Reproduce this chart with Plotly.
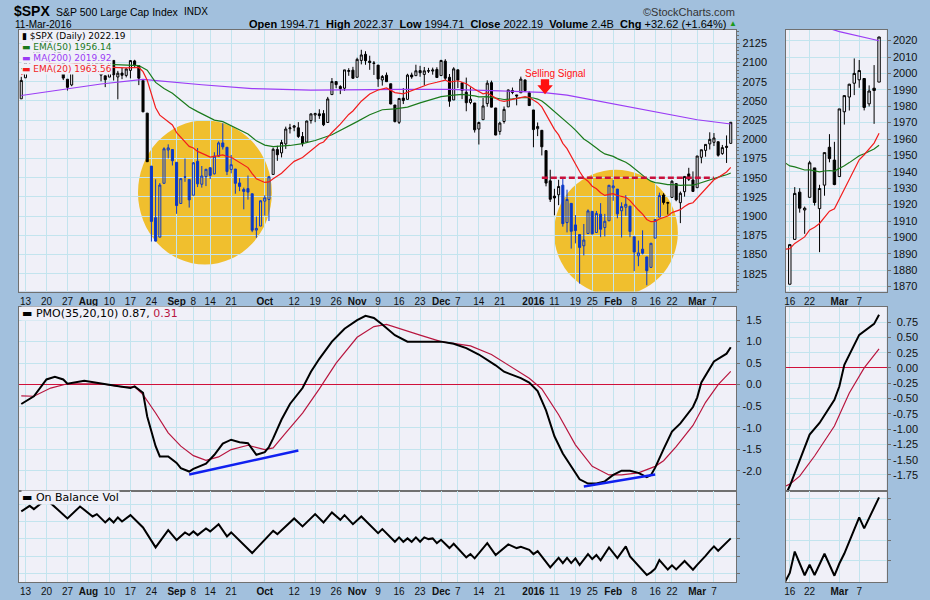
import pandas as pd
import plotly.graph_objects as go

W, H = 930, 600
PAGE = "#A2C0DD"
PANEL = "#F0F0F8"
GRID = "#C3E4EE"
BORDER = "#707070"
FONT = "Arial, Liberation Sans, sans-serif"
LEG_FONT = "DejaVu Sans, Verdana, sans-serif"

# trading days shown (Jul 10 2015 .. Mar 11 2016)
holidays = ["2015-09-07", "2015-11-26", "2015-12-25", "2016-01-01", "2016-01-18", "2016-02-15"]
days = [d.strftime("%Y-%m-%d") for d in pd.bdate_range("2015-07-10", "2016-03-11")]
days = [d for d in days if d not in holidays]

opens = [2052.74,
         2080.03, 2099.72, 2109.01, 2110.55, 2126.80,
         2126.85, 2127.55, 2118.21, 2114.16, 2102.24,
         2078.19, 2070.75, 2094.70, 2106.78, 2111.60,
         2104.49, 2097.68, 2095.27, 2100.75, 2082.61,
         2080.98, 2102.66, 2081.10, 2086.19, 2083.15,
         2089.70, 2101.99, 2095.69, 2076.61, 2034.08,
         1965.15, 1898.08, 1872.75, 1942.77, 1986.06,
         1986.73, 1970.09, 1916.52, 1950.79, 1947.76,
         1927.30, 1971.45, 1941.59, 1951.45,
         1963.06, 1955.10, 1978.02, 1995.33, 1989.66,
         1960.84, 1961.39, 1943.24, 1934.81, 1935.93,
         1929.18, 1881.90, 1887.14, 1919.65, 1921.77,
         1954.33, 1986.63, 1982.34, 1994.01, 2013.73,
         2015.65, 2015.00, 2003.66, 1996.47, 2024.37,
         2031.73, 2033.13, 2033.47, 2021.88, 2058.19,
         2075.08, 2068.75, 2066.48, 2088.35, 2090.00,
         2080.76, 2102.63, 2110.60, 2101.68, 2098.60,
         2096.56, 2077.19, 2083.41, 2072.29, 2044.64,
         2022.08, 2053.67, 2051.99, 2083.70, 2082.82,
         2089.41, 2084.42, 2089.30, 2088.82,
         2090.95, 2082.93, 2101.71, 2080.71, 2051.24,
         2090.42, 2073.39, 2061.17, 2047.93, 2047.27,
         2013.37, 2025.55, 2046.50, 2073.76, 2040.81,
         2010.27, 2023.15, 2042.20, 2063.52,
         2057.77, 2060.54, 2077.34, 2060.59,
         2038.20, 2013.78, 2011.71, 1985.32, 1945.97,
         1926.12, 1927.83, 1940.34, 1891.68, 1916.68,
         1888.66, 1876.18, 1861.46, 1877.40,
         1906.28, 1878.79, 1902.52, 1885.22, 1894.00,
         1936.94, 1935.26, 1907.07, 1911.67, 1913.07,
         1873.25, 1848.46, 1857.10, 1847.00, 1833.40,
         1871.44, 1898.80, 1927.57, 1916.74,
         1924.44, 1942.38, 1917.56, 1931.87, 1954.95,
         1947.13, 1937.09, 1976.60, 1985.60, 1994.01,
         1996.11, 1996.88, 1981.44, 1990.97, 1994.71]
highs = [2081.31,
         2100.67, 2111.98, 2114.14, 2124.42, 2128.91,
         2132.82, 2128.49, 2118.51, 2116.87, 2106.01,
         2078.19, 2095.60, 2110.60, 2110.48, 2114.24,
         2105.70, 2102.51, 2112.66, 2103.32, 2082.61,
         2105.35, 2102.66, 2089.06, 2092.93, 2092.45,
         2102.87, 2103.47, 2096.17, 2076.61, 2034.08,
         1965.15, 1948.04, 1943.09, 1989.60, 1993.48,
         1986.73, 1970.09, 1948.91, 1975.01, 1947.76,
         1970.42, 1988.63, 1965.29, 1961.05,
         1963.06, 1983.19, 1997.26, 2020.86, 1989.66,
         1979.64, 1961.39, 1949.52, 1937.17, 1952.89,
         1929.18, 1899.48, 1920.53, 1927.21, 1951.36,
         1989.17, 1991.62, 1999.31, 2016.50, 2020.13,
         2018.66, 2022.34, 2009.56, 2024.15, 2033.54,
         2034.45, 2039.12, 2037.97, 2055.20, 2079.74,
         2075.14, 2070.37, 2090.35, 2092.52, 2094.32,
         2106.20, 2116.48, 2114.59, 2108.78, 2101.91,
         2096.56, 2083.67, 2086.94, 2072.29, 2044.64,
         2053.22, 2066.69, 2085.31, 2086.74, 2097.06,
         2095.61, 2094.12, 2093.00, 2093.29,
         2093.81, 2103.37, 2104.27, 2085.00, 2093.84,
         2090.42, 2073.85, 2080.33, 2067.65, 2047.27,
         2022.92, 2053.87, 2076.72, 2076.37, 2040.81,
         2022.90, 2042.74, 2064.73, 2067.36,
         2057.77, 2081.56, 2077.34, 2062.54,
         2038.20, 2021.94, 2011.71, 1985.32, 1960.40,
         1935.65, 1947.38, 1950.33, 1934.47, 1916.68,
         1901.44, 1876.18, 1889.85, 1908.85,
         1906.28, 1906.73, 1916.98, 1902.96, 1940.24,
         1947.20, 1935.26, 1918.01, 1927.35, 1913.07,
         1873.25, 1868.25, 1881.60, 1847.00, 1864.78,
         1895.77, 1930.68, 1930.00, 1918.78,
         1946.70, 1942.38, 1932.08, 1951.83, 1962.96,
         1958.27, 1978.35, 1986.51, 1993.69, 2009.13,
         2008.16, 1996.88, 1992.69, 2005.08, 2022.37]
lows = [2052.74,
        2080.03, 2098.18, 2102.49, 2110.55, 2119.88,
        2123.66, 2115.40, 2110.00, 2098.63, 2077.09,
        2063.52, 2069.09, 2094.08, 2094.97, 2102.07,
        2087.31, 2088.60, 2095.27, 2075.53, 2067.91,
        2080.98, 2076.49, 2052.09, 2078.26, 2080.61,
        2079.30, 2094.14, 2070.53, 2035.73, 1970.89,
        1867.01, 1867.08, 1872.75, 1942.77, 1975.19,
        1965.98, 1903.07, 1916.52, 1944.72, 1911.21,
        1927.30, 1937.88, 1937.19, 1939.19,
        1948.27, 1954.30, 1977.93, 1986.73, 1953.45,
        1955.80, 1929.22, 1932.57, 1908.92, 1921.50,
        1879.21, 1871.91, 1887.14, 1900.70, 1893.70,
        1954.33, 1971.99, 1976.44, 1987.53, 2007.61,
        2010.55, 2001.78, 1990.73, 1996.47, 2020.46,
        2022.31, 2026.61, 2017.22, 2021.88, 2058.19,
        2066.53, 2058.84, 2063.11, 2082.63, 2079.34,
        2080.76, 2097.51, 2096.98, 2090.41, 2083.74,
        2068.24, 2069.91, 2074.85, 2045.66, 2022.02,
        2019.94, 2045.90, 2051.99, 2078.76, 2082.82,
        2081.39, 2070.29, 2086.30, 2084.13,
        2080.41, 2082.93, 2077.11, 2042.35, 2051.24,
        2066.78, 2052.32, 2036.53, 2045.67, 2008.80,
        1993.26, 2025.55, 2042.43, 2041.66, 2005.33,
        2005.93, 2020.49, 2042.20, 2058.73,
        2044.20, 2060.54, 2061.97, 2043.62,
        1989.68, 2004.17, 1979.05, 1938.83, 1918.46,
        1901.10, 1914.35, 1886.41, 1878.93, 1857.83,
        1864.60, 1812.29, 1848.98, 1877.40,
        1875.97, 1878.79, 1872.70, 1873.65, 1894.00,
        1920.03, 1897.29, 1872.23, 1900.52, 1872.65,
        1828.46, 1834.94, 1850.32, 1810.10, 1833.40,
        1871.44, 1898.80, 1915.09, 1902.17,
        1924.44, 1919.44, 1891.00, 1925.41, 1945.78,
        1931.81, 1937.09, 1968.80, 1977.37, 1986.77,
        1991.25, 1977.43, 1979.84, 1969.25, 1994.71]
closes = [2076.62,
          2099.60, 2108.95, 2107.40, 2124.29, 2126.64,
          2128.28, 2119.21, 2114.15, 2102.15, 2079.65,
          2067.64, 2093.25, 2108.57, 2108.63, 2103.84,
          2098.04, 2093.32, 2099.84, 2083.56, 2077.57,
          2104.18, 2084.07, 2086.05, 2083.39, 2091.54,
          2102.44, 2096.92, 2079.61, 2035.73, 1970.89,
          1893.21, 1867.61, 1940.51, 1987.66, 1988.87,
          1972.18, 1913.85, 1948.86, 1951.13, 1921.22,
          1969.41, 1942.04, 1952.29, 1961.05,
          1953.03, 1978.09, 1995.31, 1990.20, 1958.03,
          1966.97, 1942.74, 1938.76, 1932.24, 1931.34,
          1881.77, 1884.09, 1920.03, 1923.82, 1951.36,
          1987.05, 1979.92, 1995.83, 2013.43, 2014.89,
          2017.46, 2003.69, 1994.24, 2023.86, 2033.11,
          2033.66, 2030.77, 2018.94, 2052.51, 2075.15,
          2071.18, 2065.89, 2090.35, 2089.41, 2079.36,
          2104.05, 2109.79, 2102.31, 2099.93, 2099.20,
          2078.58, 2081.72, 2075.00, 2045.97, 2023.04,
          2053.19, 2050.44, 2083.58, 2081.24, 2089.17,
          2086.59, 2089.14, 2088.87, 2090.11,
          2080.41, 2102.63, 2079.51, 2049.62, 2091.69,
          2077.07, 2063.59, 2047.62, 2052.23, 2012.37,
          2021.94, 2043.41, 2073.07, 2041.89, 2005.55,
          2021.15, 2038.97, 2064.29, 2060.99,
          2056.50, 2078.36, 2063.36, 2043.94,
          2012.66, 2016.71, 1990.26, 1943.09, 1922.03,
          1923.67, 1938.68, 1890.28, 1921.84, 1880.33,
          1881.33, 1859.33, 1868.99, 1906.90,
          1877.08, 1903.63, 1882.95, 1893.36, 1940.24,
          1939.38, 1903.03, 1912.53, 1915.45, 1880.05,
          1853.44, 1852.21, 1851.86, 1829.08, 1864.78,
          1895.58, 1926.82, 1917.83, 1917.78,
          1945.50, 1921.27, 1929.80, 1951.70, 1948.05,
          1932.23, 1978.35, 1986.45, 1993.40, 1999.99,
          2001.76, 1979.26, 1989.26, 1989.57, 2022.19]

# candles drawn blue where the highlight circles sit
blue_spans = [("2015-08-24", "2015-10-02"), ("2016-01-13", "2016-02-17")]

tick_days = ["2015-07-13", "2015-07-20", "2015-07-27", "2015-08-03", "2015-08-10", "2015-08-17",
             "2015-08-24", "2015-09-01", "2015-09-08", "2015-09-14", "2015-09-21", "2015-10-01",
             "2015-10-12", "2015-10-19", "2015-10-26", "2015-11-02", "2015-11-09", "2015-11-16",
             "2015-11-23", "2015-12-01", "2015-12-07", "2015-12-14", "2015-12-21", "2016-01-04",
             "2016-01-11", "2016-01-19", "2016-01-25", "2016-02-01", "2016-02-08", "2016-02-16",
             "2016-02-22", "2016-03-01", "2016-03-07"]
tick_text = ["13", "20", "27", "<b>Aug</b>", "10", "17", "24", "<b>Sep</b>", "8", "14", "21",
             "<b>Oct</b>", "12", "19", "26", "<b>Nov</b>", "9", "16", "23", "<b>Dec</b>", "7",
             "14", "21", "<b>2016</b>", "11", "19", "25", "<b>Feb</b>", "8", "16", "22",
             "<b>Mar</b>", "7"]
inset_tick_days = ["2016-02-16", "2016-02-22", "2016-03-01", "2016-03-07"]
inset_tick_text = ["16", "22", "<b>Mar</b>", "7"]

ema50 = [("2015-07-10", 2092), ("2015-07-20", 2096), ("2015-07-30", 2097), ("2015-08-10", 2097.5),
         ("2015-08-19", 2096), ("2015-08-21", 2090), ("2015-08-25", 2074), ("2015-08-27", 2066),
         ("2015-08-31", 2060), ("2015-09-02", 2051), ("2015-09-04", 2042), ("2015-09-09", 2036),
         ("2015-09-11", 2030), ("2015-09-15", 2025), ("2015-09-17", 2023), ("2015-09-21", 2018),
         ("2015-09-23", 2012.5), ("2015-09-25", 2007), ("2015-09-29", 1998), ("2015-10-01", 1992.5),
         ("2015-10-05", 1990.5), ("2015-10-09", 1992), ("2015-10-14", 1994.5), ("2015-10-19", 1998.5),
         ("2015-10-23", 2006), ("2015-10-28", 2014), ("2015-11-02", 2023), ("2015-11-05", 2032),
         ("2015-11-10", 2038.5), ("2015-11-13", 2039.5), ("2015-11-18", 2042), ("2015-11-23", 2047.5),
         ("2015-11-27", 2052), ("2015-12-01", 2055.5), ("2015-12-04", 2057.5), ("2015-12-08", 2058.5),
         ("2015-12-11", 2056.5), ("2015-12-14", 2055.2), ("2015-12-16", 2055.6), ("2015-12-18", 2053.2),
         ("2015-12-22", 2051.8), ("2015-12-24", 2052.6), ("2015-12-29", 2054.1), ("2015-12-31", 2054.2),
         ("2016-01-04", 2053.8), ("2016-01-05", 2052.4), ("2016-01-06", 2049.9), ("2016-01-07", 2045.7),
         ("2016-01-08", 2040.9), ("2016-01-11", 2036.3), ("2016-01-12", 2032.5), ("2016-01-13", 2026.9),
         ("2016-01-14", 2022.8), ("2016-01-15", 2017.2), ("2016-01-19", 2011.9), ("2016-01-20", 2005.9),
         ("2016-01-21", 2000.5), ("2016-01-22", 1996.9), ("2016-01-25", 1992.2), ("2016-01-26", 1988.7),
         ("2016-01-27", 1984.6), ("2016-01-28", 1981.0), ("2016-01-29", 1979.4), ("2016-02-01", 1977.8),
         ("2016-02-02", 1974.9), ("2016-02-03", 1972.5), ("2016-02-04", 1970.2), ("2016-02-05", 1966.7),
         ("2016-02-08", 1962.2), ("2016-02-09", 1957.9), ("2016-02-10", 1953.8), ("2016-02-11", 1948.9),
         ("2016-02-12", 1945.6), ("2016-02-16", 1943.6), ("2016-02-17", 1943.0), ("2016-02-18", 1942.0),
         ("2016-02-19", 1941.1), ("2016-02-22", 1941.2), ("2016-02-23", 1940.4), ("2016-02-24", 1940.0),
         ("2016-02-25", 1940.5), ("2016-02-26", 1940.8), ("2016-02-29", 1940.4), ("2016-03-01", 1941.9),
         ("2016-03-02", 1943.7), ("2016-03-03", 1945.6), ("2016-03-04", 1947.7), ("2016-03-07", 1949.8),
         ("2016-03-08", 1951.0), ("2016-03-09", 1952.5), ("2016-03-10", 1953.9), ("2016-03-11", 1956.14)]

ma200 = [("2015-07-10", 2057), ("2015-07-27", 2065.5), ("2015-08-06", 2072), ("2015-08-20", 2078),
         ("2015-09-10", 2071), ("2015-09-28", 2066), ("2015-10-16", 2064), ("2015-11-17", 2065),
         ("2015-12-03", 2065), ("2015-12-21", 2063), ("2016-01-06", 2061), ("2016-01-14", 2057.5),
         ("2016-01-27", 2049), ("2016-02-09", 2040), ("2016-02-19", 2032), ("2016-03-01", 2025.5),
         ("2016-03-11", 2019.92)]

ema20 = [("2015-07-10", 2084), ("2015-07-17", 2097), ("2015-07-24", 2101), ("2015-07-31", 2097),
         ("2015-08-07", 2094), ("2015-08-14", 2093), ("2015-08-19", 2093.5), ("2015-08-20", 2088.0),
         ("2015-08-21", 2076.9), ("2015-08-24", 2059.4), ("2015-08-25", 2041.1), ("2015-08-26", 2031.5),
         ("2015-08-28", 2023.6), ("2015-08-31", 2018.7), ("2015-09-01", 2008.7), ("2015-09-02", 2003.0),
         ("2015-09-04", 1990.8), ("2015-09-08", 1988.8), ("2015-09-09", 1984.3), ("2015-09-11", 1979.4),
         ("2015-09-14", 1976.9), ("2015-09-17", 1979.8), ("2015-09-18", 1977.7), ("2015-09-21", 1976.7),
         ("2015-09-23", 1970.2), ("2015-09-25", 1963.2), ("2015-09-28", 1955.5), ("2015-09-29", 1948.7),
         ("2015-10-01", 1943.9), ("2015-10-02", 1944.6), ("2015-10-05", 1948.6), ("2015-10-07", 1955.8),
         ("2015-10-09", 1966.4), ("2015-10-12", 1971.3), ("2015-10-14", 1976.3), ("2015-10-16", 1985.8),
         ("2015-10-20", 1994.2), ("2015-10-21", 1996.6), ("2015-10-23", 2008.9), ("2015-10-27", 2019.7),
         ("2015-10-29", 2032.4), ("2015-10-30", 2036.9), ("2015-11-03", 2049.6), ("2015-11-05", 2058.9),
         ("2015-11-09", 2064.2), ("2015-11-11", 2066.8), ("2015-11-13", 2060.8), ("2015-11-17", 2059.2),
         ("2015-11-20", 2065.9), ("2015-11-25", 2071.7), ("2015-11-30", 2074.2), ("2015-12-02", 2077.1),
         ("2015-12-03", 2074.5), ("2015-12-07", 2076.2), ("2015-12-09", 2072.4), ("2015-12-11", 2065.0),
         ("2015-12-15", 2059.2), ("2015-12-16", 2060.5), ("2015-12-18", 2053.6), ("2015-12-21", 2050.5),
         ("2015-12-22", 2049.4), ("2015-12-24", 2051.8), ("2015-12-29", 2054.7), ("2015-12-30", 2055.5),
         ("2015-12-31", 2054.4), ("2016-01-04", 2051.0), ("2016-01-05", 2047.7), ("2016-01-06", 2042.2),
         ("2016-01-07", 2032.8), ("2016-01-08", 2022.3), ("2016-01-11", 2012.9), ("2016-01-12", 2005.8),
         ("2016-01-13", 1994.8), ("2016-01-14", 1987.9), ("2016-01-15", 1977.6), ("2016-01-19", 1968.5),
         ("2016-01-20", 1958.1), ("2016-01-21", 1949.6), ("2016-01-22", 1945.5), ("2016-01-25", 1939.0),
         ("2016-01-26", 1935.6), ("2016-01-27", 1930.6), ("2016-01-28", 1927.0), ("2016-01-29", 1928.3),
         ("2016-02-01", 1929.4), ("2016-02-02", 1926.9), ("2016-02-03", 1925.5), ("2016-02-04", 1924.5),
         ("2016-02-05", 1920.3), ("2016-02-08", 1913.9), ("2016-02-09", 1908.0), ("2016-02-10", 1902.7),
         ("2016-02-11", 1895.7), ("2016-02-12", 1892.8), ("2016-02-16", 1893.1), ("2016-02-17", 1896.3),
         ("2016-02-18", 1898.3), ("2016-02-19", 1900.3), ("2016-02-22", 1904.6), ("2016-02-23", 1906.2),
         ("2016-02-24", 1908.5), ("2016-02-25", 1912.6), ("2016-02-26", 1916.0), ("2016-02-29", 1917.5),
         ("2016-03-01", 1923.3), ("2016-03-02", 1929.3), ("2016-03-03", 1935.4), ("2016-03-04", 1941.6),
         ("2016-03-07", 1947.3), ("2016-03-08", 1950.4), ("2016-03-09", 1954.1), ("2016-03-10", 1957.5),
         ("2016-03-11", 1963.56)]

pmo = [("2015-07-10", -0.45), ("2015-07-15", -0.27), ("2015-07-20", 0.12), ("2015-07-22", 0.18),
       ("2015-07-24", 0.12), ("2015-07-27", 0.02), ("2015-07-31", 0.09), ("2015-08-05", 0.05),
       ("2015-08-11", -0.02), ("2015-08-17", -0.08), ("2015-08-18", -0.04), ("2015-08-20", -0.19),
       ("2015-08-21", -0.74), ("2015-08-25", -1.43), ("2015-08-26", -1.67), ("2015-08-28", -1.67),
       ("2015-09-01", -1.82), ("2015-09-02", -1.94), ("2015-09-04", -2.02), ("2015-09-08", -1.96),
       ("2015-09-11", -1.84), ("2015-09-15", -1.63), ("2015-09-17", -1.37), ("2015-09-21", -1.28),
       ("2015-09-23", -1.34), ("2015-09-25", -1.36), ("2015-09-29", -1.63), ("2015-10-01", -1.57),
       ("2015-10-02", -1.45), ("2015-10-05", -1.25), ("2015-10-07", -0.81), ("2015-10-09", -0.45),
       ("2015-10-14", -0.08), ("2015-10-16", 0.30), ("2015-10-20", 0.60), ("2015-10-23", 1.00),
       ("2015-10-28", 1.30), ("2015-11-02", 1.50), ("2015-11-04", 1.60), ("2015-11-06", 1.55),
       ("2015-11-10", 1.40), ("2015-11-13", 1.15), ("2015-11-18", 1.00), ("2015-11-24", 1.00),
       ("2015-12-01", 1.00), ("2015-12-04", 0.95), ("2015-12-09", 0.85), ("2015-12-14", 0.70),
       ("2015-12-18", 0.45), ("2015-12-22", 0.30), ("2015-12-29", 0.15), ("2015-12-31", 0.05),
       ("2016-01-05", -0.15), ("2016-01-07", -0.60), ("2016-01-11", -1.20), ("2016-01-13", -1.60),
       ("2016-01-15", -1.90), ("2016-01-20", -2.20), ("2016-01-22", -2.30), ("2016-01-26", -2.30),
       ("2016-01-28", -2.25), ("2016-02-01", -2.10), ("2016-02-03", -2.00), ("2016-02-05", -2.00),
       ("2016-02-09", -2.05), ("2016-02-11", -2.15), ("2016-02-12", -2.10), ("2016-02-16", -1.93),
       ("2016-02-18", -1.50), ("2016-02-22", -1.09), ("2016-02-24", -0.90), ("2016-02-29", -0.52),
       ("2016-03-01", -0.30), ("2016-03-02", 0.05), ("2016-03-07", 0.54), ("2016-03-10", 0.72),
       ("2016-03-11", 0.87)]

pmo_signal = [("2015-07-10", -0.26), ("2015-07-15", -0.27), ("2015-07-21", -0.08), ("2015-07-27", 0.02),
              ("2015-08-06", 0.02), ("2015-08-13", -0.05), ("2015-08-18", -0.05), ("2015-08-20", -0.23),
              ("2015-08-25", -0.66), ("2015-08-28", -1.12), ("2015-09-02", -1.43), ("2015-09-08", -1.65),
              ("2015-09-11", -1.76), ("2015-09-16", -1.68), ("2015-09-21", -1.51), ("2015-09-25", -1.41),
              ("2015-10-01", -1.51), ("2015-10-05", -1.47), ("2015-10-08", -1.12), ("2015-10-14", -0.66),
              ("2015-10-20", -0.10), ("2015-10-26", 0.50), ("2015-11-02", 1.10), ("2015-11-06", 1.35),
              ("2015-11-11", 1.40), ("2015-11-16", 1.30), ("2015-11-23", 1.15), ("2015-12-01", 1.00),
              ("2015-12-10", 0.90), ("2015-12-17", 0.70), ("2015-12-24", 0.40), ("2015-12-31", 0.15),
              ("2016-01-06", -0.10), ("2016-01-12", -0.70), ("2016-01-19", -1.40), ("2016-01-25", -1.90),
              ("2016-01-29", -2.10), ("2016-02-03", -2.10), ("2016-02-09", -2.05), ("2016-02-16", -1.90),
              ("2016-02-18", -1.77), ("2016-02-23", -1.44), ("2016-02-29", -0.95), ("2016-03-03", -0.41),
              ("2016-03-08", 0.00), ("2016-03-11", 0.31)]

obv = [("2015-07-10", 71.0), ("2015-07-14", 76.6), ("2015-07-15", 73.3), ("2015-07-17", 80.0),
       ("2015-07-20", 81.0), ("2015-07-21", 79.3), ("2015-07-27", 64.0), ("2015-07-30", 76.0),
       ("2015-08-04", 66.0), ("2015-08-05", 68.3), ("2015-08-07", 60.0), ("2015-08-10", 64.0),
       ("2015-08-11", 60.0), ("2015-08-12", 65.0), ("2015-08-13", 61.0), ("2015-08-17", 67.3),
       ("2015-08-20", 55.0), ("2015-08-25", 35.0), ("2015-08-28", 52.3), ("2015-09-01", 42.3),
       ("2015-09-03", 50.0), ("2015-09-04", 47.3), ("2015-09-08", 51.0), ("2015-09-09", 47.3),
       ("2015-09-11", 54.0), ("2015-09-14", 51.0), ("2015-09-16", 58.3), ("2015-09-18", 46.0),
       ("2015-09-21", 50.0), ("2015-09-28", 29.3), ("2015-10-05", 51.6), ("2015-10-06", 48.3),
       ("2015-10-12", 64.0), ("2015-10-14", 56.0), ("2015-10-19", 68.3), ("2015-10-21", 60.0),
       ("2015-10-23", 70.0), ("2015-10-27", 62.6), ("2015-10-28", 67.3), ("2015-10-30", 58.3),
       ("2015-11-03", 66.0), ("2015-11-09", 49.3), ("2015-11-10", 53.3), ("2015-11-13", 40.6),
       ("2015-11-16", 45.0), ("2015-11-17", 40.6), ("2015-11-18", 44.0), ("2015-11-19", 40.6),
       ("2015-11-20", 45.0), ("2015-11-23", 40.6), ("2015-11-24", 45.0), ("2015-11-25", 43.3),
       ("2015-11-27", 44.0), ("2015-11-30", 39.3), ("2015-12-01", 42.6), ("2015-12-03", 34.3),
       ("2015-12-04", 38.6), ("2015-12-09", 25.0), ("2015-12-10", 28.3), ("2015-12-11", 24.0),
       ("2015-12-16", 39.3), ("2015-12-18", 27.3), ("2015-12-23", 38.0), ("2015-12-28", 34.3),
       ("2015-12-29", 35.6), ("2015-12-31", 32.6), ("2016-01-04", 28.3), ("2016-01-05", 31.3),
       ("2016-01-08", 15.0), ("2016-01-12", 24.6), ("2016-01-13", 19.3), ("2016-01-14", 24.6),
       ("2016-01-15", 19.3), ("2016-01-19", 24.0), ("2016-01-20", 17.3), ("2016-01-22", 28.3),
       ("2016-01-25", 23.3), ("2016-01-26", 27.3), ("2016-01-27", 22.0), ("2016-01-29", 35.0),
       ("2016-02-02", 24.3), ("2016-02-04", 36.0), ("2016-02-05", 26.0), ("2016-02-11", 7.3),
       ("2016-02-12", 10.0), ("2016-02-16", 13.7), ("2016-02-17", 22.3), ("2016-02-19", 12.8),
       ("2016-02-22", 17.0), ("2016-02-23", 12.9), ("2016-02-25", 21.4), ("2016-02-29", 12.6),
       ("2016-03-01", 17.5), ("2016-03-02", 21.5), ("2016-03-03", 26.5), ("2016-03-04", 31.5),
       ("2016-03-07", 36.0), ("2016-03-08", 31.6), ("2016-03-09", 35.7), ("2016-03-10", 39.8),
       ("2016-03-11", 44.0)]

# hand-drawn PMO trend lines (date, value) pairs
pmo_trendlines = [(("2015-09-04", -2.09), ("2015-10-13", -1.53)),
                  (("2016-01-21", -2.37), ("2016-02-16", -2.09))]
resistance_level = 1950
resistance_span = ("2016-01-06", "2016-03-07")


def px(x):
    return x / W


def py(y):
    return 1 - y / H


def pos(day):
    return days.index(day)


def unzip(pairs):
    return [p[0] for p in pairs], [p[1] for p in pairs]


def in_blue(day):
    return any(a <= day <= b for a, b in blue_spans)


fig = go.Figure()


def add_candles(idx, color, up_fill, xa, ya):
    fig.add_trace(go.Candlestick(
        x=[days[i] for i in idx], open=[opens[i] for i in idx], high=[highs[i] for i in idx],
        low=[lows[i] for i in idx], close=[closes[i] for i in idx],
        increasing=dict(line=dict(color=color, width=1), fillcolor=up_fill),
        decreasing=dict(line=dict(color=color, width=1), fillcolor=color),
        whiskerwidth=0, xaxis=xa, yaxis=ya, showlegend=False, hoverinfo="skip"))


def add_line(pairs, color, width, xa, ya):
    xs, ys = unzip(pairs)
    fig.add_trace(go.Scatter(x=xs, y=ys, mode="lines", line=dict(color=color, width=width),
                             xaxis=xa, yaxis=ya, showlegend=False, hoverinfo="skip"))


all_idx = list(range(len(days)))
black_idx = [i for i in all_idx if not in_blue(days[i])]
blue_idx = [i for i in all_idx if in_blue(days[i])]

EMA50_C = "#1B7A1B"
MA200_C = "#9B3CF5"
EMA20_C = "#F21D1D"
SIG_C = "#B8163F"

# main price panel
add_candles(black_idx, "#000000", PANEL, "x", "y")
add_candles(blue_idx, "#0A38C8", "rgba(0,0,0,0)", "x", "y")
add_line(ma200, MA200_C, 1.2, "x", "y")
add_line(ema50, EMA50_C, 1.2, "x", "y")
add_line(ema20, EMA20_C, 1.2, "x", "y")
# inset price panel
add_candles(all_idx, "#000000", PANEL, "x2", "y2")
add_line(ma200, MA200_C, 1.2, "x2", "y2")
add_line(ema50, EMA50_C, 1.2, "x2", "y2")
add_line(ema20, EMA20_C, 1.2, "x2", "y2")
# PMO
add_line(pmo_signal, SIG_C, 1.2, "x3", "y3")
add_line(pmo, "#000000", 2, "x3", "y3")
add_line(pmo_signal, SIG_C, 1.2, "x4", "y4")
add_line(pmo, "#000000", 2, "x4", "y4")
# OBV
add_line(obv, "#000000", 2, "x5", "y5")
add_line(obv, "#000000", 2, "x6", "y6")

main_x = [px(17), px(736)]
inset_x = [px(785.7), px(886.7)]
price_y = [py(292), py(30)]
pmo_y = [py(491.7), py(307.3)]
obv_y = [py(583.3), py(491.7)]


def x_axis(domain, anchor, rng, vals, text, show):
    return dict(type="category", categoryorder="array", categoryarray=days, domain=domain,
                anchor=anchor, range=rng, tickmode="array", tickvals=vals, ticktext=text,
                showticklabels=show, ticks="", tickfont=dict(family=FONT, size=10, color="#111111"),
                showgrid=True, gridcolor=GRID, gridwidth=1, showline=True, mirror=True,
                linecolor=BORDER, linewidth=1, zeroline=False, rangeslider=dict(visible=False),
                fixedrange=True)


def y_axis(domain, anchor, rng, vals, text=None, zero=False):
    return dict(domain=domain, anchor=anchor, range=rng, side="right", tickmode="array",
                tickvals=vals, ticktext=text, showticklabels=text is not None,
                ticks="outside", ticklen=3, tickcolor=BORDER,
                tickfont=dict(family=FONT, size=11, color="#111111"),
                showgrid=True, gridcolor=GRID, gridwidth=1, showline=True, mirror=True,
                linecolor=BORDER, linewidth=1, zeroline=zero, zerolinecolor="#D0103A",
                zerolinewidth=1.3, fixedrange=True)


price_ticks = list(range(1825, 2126, 25))
inset_ticks = list(range(1870, 2021, 10))
pmo_ticks = [-2.0, -1.5, -1.0, -0.5, 0.0, 0.5, 1.0, 1.5]
pmo_text = [("%.1f" % v) if v < 0 else "\u2004%.1f" % v for v in pmo_ticks]
ipmo_ticks = [-1.75, -1.5, -1.25, -1.0, -0.75, -0.5, -0.25, 0.0, 0.25, 0.5, 0.75]
ipmo_text = [("%.2f" % v) if v < 0 else "\u2004%.2f" % v for v in ipmo_ticks]
obv_grid = [9.0, 26.3, 43.6, 60.9, 78.2]
iobv_grid = [18.6, 26.9, 35.2, 43.5]

main_rng = [-0.55, 170.35]
inset_rng = [150.24, 170.56]

fig.update_layout(
    width=W, height=H, margin=dict(l=0, r=0, t=0, b=0, pad=0),
    paper_bgcolor=PAGE, plot_bgcolor=PANEL, hovermode=False, showlegend=False,
    xaxis=x_axis(main_x, "y", main_rng, tick_days, tick_text, True),
    yaxis=y_axis(price_y, "x", [1802.0, 2142.3], price_ticks, [str(v) for v in price_ticks]),
    xaxis2=x_axis(inset_x, "y2", inset_rng, inset_tick_days, inset_tick_text, True),
    yaxis2=y_axis(price_y, "x2", [1867.0, 2026.5], inset_ticks, [str(v) for v in inset_ticks]),
    xaxis3=x_axis(main_x, "y3", main_rng, tick_days, tick_text, False),
    yaxis3=y_axis(pmo_y, "x3", [-2.47, 1.81], pmo_ticks, pmo_text, zero=True),
    xaxis4=x_axis(inset_x, "y4", inset_rng, inset_tick_days, inset_tick_text, False),
    yaxis4=y_axis(pmo_y, "x4", [-2.01, 1.0], ipmo_ticks, ipmo_text, zero=True),
    xaxis5=x_axis(main_x, "y5", main_rng, tick_days, tick_text, True),
    yaxis5=y_axis(obv_y, "x5", [0, 91.6], obv_grid),
    xaxis6=x_axis(inset_x, "y6", inset_rng, inset_tick_days, inset_tick_text, True),
    yaxis6=y_axis(obv_y, "x6", [9.96, 46.6], iobv_grid),
)
fig.update_layout(yaxis=dict(minor=dict(ticks="outside", ticklen=2, tickcolor=BORDER, dtick=5,
                                        showgrid=False)))

shapes = []
# highlight circles on the price panel
shapes.append(dict(type="circle", xref="x", yref="y", x0=27.8, x1=59.7, y0=1837, y1=2024.5,
                   fillcolor="#F0BF2E", line=dict(width=0), layer="below"))
shapes.append(dict(type="circle", xref="x", yref="y", x0=126.9, x1=156.4, y0=1796.8, y1=1960.5,
                   fillcolor="#F0BF2E", line=dict(width=0), layer="below"))
# dashed level line
shapes.append(dict(type="line", xref="x", yref="y", x0=pos(resistance_span[0]),
                   x1=pos(resistance_span[1]), y0=resistance_level, y1=resistance_level,
                   line=dict(color="#C8103C", width=2.5, dash="6px,3px")))
# PMO trend lines
for (d0, v0), (d1, v1) in pmo_trendlines:
    shapes.append(dict(type="line", xref="x3", yref="y3", x0=pos(d0), x1=pos(d1), y0=v0, y1=v1,
                       line=dict(color="#1020F0", width=2.5)))
# block arrow for the selling signal
arrow = [(540, 79.3), (548.3, 79.3), (548.3, 85.5), (552, 85.5), (544.2, 94.5), (536.5, 85.5),
         (540, 85.5)]
path = "M " + " L ".join("%.5f %.5f" % (px(a), py(b)) for a, b in arrow) + " Z"
shapes.append(dict(type="path", xref="paper", yref="paper", path=path, fillcolor="#FF1010",
                   line=dict(width=0)))
fig.update_layout(shapes=shapes)

ann = []


def text(x, y, s, size=10, color="#000000", family=FONT, anchor="left", bg=None):
    ann.append(dict(x=px(x), y=py(y), xref="paper", yref="paper", text=s, showarrow=False,
                    xanchor=anchor, yanchor="middle", font=dict(family=family, size=size, color=color),
                    bgcolor=bg, borderpad=0))


# header
text(11, 11, "<b>$SPX</b>", size=14)
text(53, 12, "S&P 500 Large Cap Index", size=10.5)
text(181, 12, "INDX", size=10)
text(12, 25, "11-Mar-2016", size=10)
text(736, 12, "\u00a9StockCharts.com", size=11, color="#333333", anchor="right")
text(727, 24, "<b>Open</b> 1994.71  <b>High</b> 2022.37  <b>Low</b> 1994.71  <b>Close</b> 2022.19  "
              "<b>Volume</b> 2.4B  <b>Chg</b> +32.62 (+1.64%)", size=11, anchor="right")
text(728, 24, "\u25b2", size=8, color="#1A9A1A")

# panel legends (boxes hide what is underneath, as in the original)
text(19, 36, "\u25ae $SPX (Daily) 2022.19", size=9, family=LEG_FONT, bg=PANEL)
text(19, 47, "\u25ac EMA(50) 1956.14", size=9, color=EMA50_C, family=LEG_FONT, bg=PANEL)
text(19, 58, "\u25ac MA(200) 2019.92", size=9, color=MA200_C, family=LEG_FONT, bg=PANEL)
text(19, 69, "\u25ac EMA(20) 1963.56", size=9, color=EMA20_C, family=LEG_FONT, bg=PANEL)
text(19, 314, "\u25ac PMO(35,20,10) 0.87, <span style='color:%s'>0.31</span>" % SIG_C, size=11,
     family=LEG_FONT, bg=PANEL)
text(19, 498, "\u25ac On Balance Vol", size=11, family=LEG_FONT, bg=PANEL)

text(523, 74, "Selling Signal", size=10, color="#FF1010")

fig.update_layout(annotations=ann)

fig.write_html("out.html", config={"displayModeBar": False},
               post_script="document.body.style.margin='0px';")
